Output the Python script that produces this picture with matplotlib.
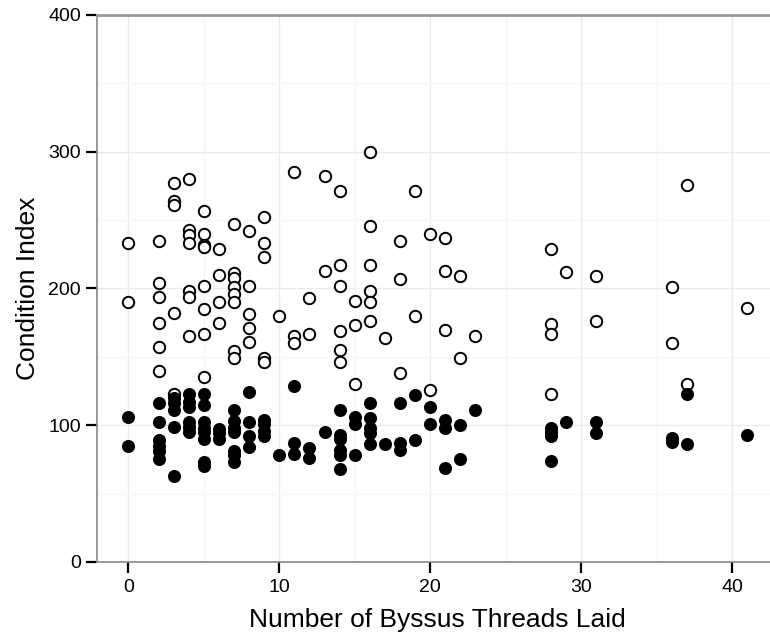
import matplotlib
matplotlib.use("Agg")
import matplotlib.pyplot as plt
from matplotlib.ticker import MultipleLocator

plt.rcParams['font.family'] = ['Liberation Sans', 'DejaVu Sans']

# open circles (upper cloud)
x_open = [0, 0,
          2, 2, 2, 2, 2, 2,
          3, 3, 3, 3, 3,
          4, 4, 4, 4, 4, 4, 4,
          5, 5, 5, 5, 5, 5, 5, 5,
          6, 6, 6, 6,
          7, 7, 7, 7, 7, 7, 7, 7,
          8, 8, 8, 8, 8,
          9, 9, 9, 9, 9,
          10,
          11, 11, 11,
          12, 12,
          13, 13,
          14, 14, 14, 14, 14, 14,
          15, 15, 15,
          16, 16, 16, 16, 16, 16,
          17,
          18, 18, 18,
          19, 19,
          20, 20,
          21, 21, 21,
          22, 22,
          23,
          28, 28, 28, 28,
          29,
          31, 31,
          36, 36,
          37, 37,
          41]
y_open = [233, 190,
          235, 204, 194, 175, 157, 140,
          277, 264, 261, 182, 123,
          280, 243, 239, 233, 198, 194, 165,
          257, 240, 232, 230, 202, 185, 167, 135,
          229, 210, 190, 175,
          247, 211, 208, 201, 196, 190, 154, 149,
          242, 202, 181, 171, 161,
          252, 233, 223, 149, 146,
          180,
          285, 165, 160,
          193, 167,
          282, 213,
          271, 217, 202, 169, 155, 146,
          191, 173, 130,
          300, 246, 217, 198, 190, 176,
          164,
          235, 207, 138,
          271, 180,
          240, 126,
          237, 213, 170,
          209, 149,
          165,
          229, 174, 167, 123,
          212,
          209, 176,
          201, 160,
          276, 130,
          186]

# filled circles (lower cloud)
x_fill = [0, 0,
          2, 2, 2, 2, 2, 2,
          3, 3, 3, 3, 3,
          4, 4, 4, 4, 4, 4,
          5, 5, 5, 5, 5, 5, 5, 5,
          6, 6, 6,
          7, 7, 7, 7, 7, 7, 7,
          8, 8, 8, 8,
          9, 9, 9, 9,
          10,
          11, 11, 11,
          12, 12,
          13,
          14, 14, 14, 14, 14, 14,
          15, 15, 15,
          16, 16, 16, 16, 16,
          17,
          18, 18, 18,
          19, 19,
          20, 20,
          21, 21, 21,
          22, 22,
          23,
          28, 28, 28, 28,
          29,
          31, 31,
          36, 36,
          37, 37,
          41]
y_fill = [106, 85,
          116, 102, 89, 85, 81, 75,
          120, 116, 111, 99, 63,
          123, 117, 113, 102, 99, 95,
          123, 115, 102, 98, 95, 90, 73, 70,
          97, 94, 90,
          111, 103, 98, 95, 81, 78, 73,
          124, 102, 92, 84,
          104, 101, 96, 92,
          78,
          129, 87, 79,
          83, 76,
          95,
          111, 93, 90, 82, 78, 68,
          106, 101, 78,
          116, 105, 98, 94, 86,
          86,
          116, 87, 82,
          122, 89,
          113, 101,
          104, 98, 69,
          100, 75,
          111,
          98, 95, 92, 74,
          102,
          102, 94,
          91, 88,
          123, 86,
          93]

fig = plt.figure(figsize=(7.7, 6.32), dpi=100)
ax = fig.add_axes([0.1266, 0.1108, 0.8838, 0.8655])

ax.plot(x_open, y_open, 'o', ms=8.2, mfc='white', mec='black', mew=1.4, zorder=3)
ax.plot(x_fill, y_fill, 'o', ms=8.4, mfc='black', mec='black', mew=1.0, zorder=4)

ax.set_xlim(-2.05, 43.05)
ax.set_ylim(0, 400)
ax.xaxis.set_major_locator(MultipleLocator(10))
ax.xaxis.set_minor_locator(MultipleLocator(5))
ax.yaxis.set_major_locator(MultipleLocator(100))
ax.yaxis.set_minor_locator(MultipleLocator(50))

ax.grid(which='major', color='#ebebeb', lw=1.0, zorder=0)
ax.grid(which='minor', color='#f6f6f6', lw=1.0, zorder=0)
ax.set_axisbelow(True)

ax.tick_params(which='major', direction='out', length=8, width=1.6,
               color='black', labelsize=14, labelcolor='black', pad=4)
ax.tick_params(which='minor', length=0)

for s in ['left', 'bottom']:
    ax.spines[s].set_color('#888888')
    ax.spines[s].set_linewidth(1.2)
ax.spines['top'].set_color('#999999')
ax.spines['top'].set_linewidth(2)
ax.spines['right'].set_visible(False)

ax.set_xlabel('Number of Byssus Threads Laid', fontsize=19, labelpad=9)
ax.set_ylabel('Condition Index', fontsize=19, labelpad=6)

fig.savefig('out.png', dpi=100)
